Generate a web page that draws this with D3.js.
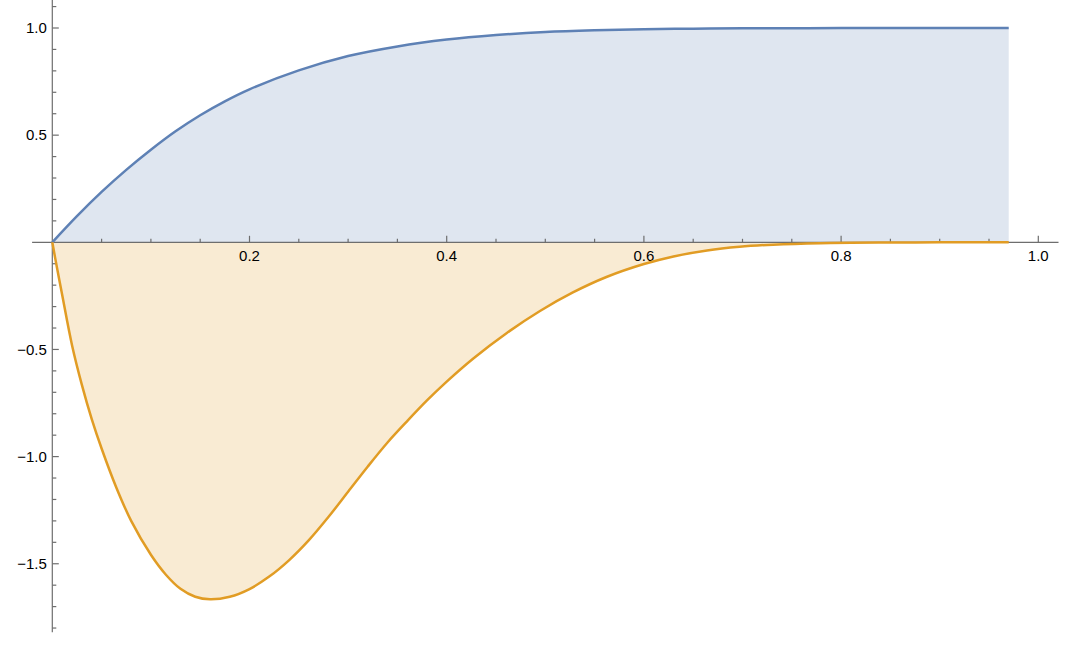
<!DOCTYPE html>
<html>
<head>
<meta charset="utf-8">
<script src="https://cdn.jsdelivr.net/npm/d3@7"></script>
<style>
  html, body { margin: 0; padding: 0; background: #ffffff; }
  svg { display: block; }
  text { font-family: "Liberation Sans", Arial, sans-serif; font-size: 15px; fill: #000; }
</style>
</head>
<body>
<svg id="chart" width="1072" height="648"></svg>
<script>
// ---- data ----
const blueX = [0, 0.025, 0.05, 0.075, 0.1, 0.125, 0.15, 0.175, 0.2, 0.25, 0.3, 0.35, 0.4, 0.45, 0.5, 0.55, 0.6, 0.65, 0.7, 0.8, 0.9, 0.97];
const blueY = [0, 0.122, 0.235, 0.338, 0.432, 0.518, 0.593, 0.658, 0.714, 0.802, 0.869, 0.914, 0.946, 0.967, 0.981, 0.989, 0.994, 0.997, 0.9985, 0.9997, 1.0, 1.0];

const orangeX = [0, 0.005, 0.01, 0.02, 0.03, 0.04, 0.05, 0.065, 0.08, 0.10, 0.115, 0.13, 0.145, 0.16, 0.18, 0.20, 0.22, 0.24, 0.26, 0.28, 0.30, 0.32, 0.34, 0.36, 0.38, 0.40, 0.427, 0.461, 0.4946, 0.528, 0.562, 0.60, 0.63, 0.664, 0.697, 0.731, 0.779, 0.85, 0.90, 0.97];
const orangeY = [0, -0.125, -0.245, -0.48, -0.665, -0.825, -0.962, -1.145, -1.30, -1.458, -1.55, -1.617, -1.654, -1.666, -1.654, -1.618, -1.560, -1.484, -1.391, -1.282, -1.164, -1.046, -0.934, -0.834, -0.738, -0.65, -0.542, -0.423, -0.3205, -0.234, -0.162, -0.1015, -0.066, -0.038, -0.021, -0.011, -0.004, -0.001, -0.0003, 0];

const xMajorTicks = [0.2, 0.4, 0.6, 0.8, 1.0];
const xTickLabels = ["0.2", "0.4", "0.6", "0.8", "1.0"];
const yMajorTicks = [-1.5, -1.0, -0.5, 0.5, 1.0];
const yTickLabels = ["\u22121.5", "\u22121.0", "\u22120.5", "0.5", "1.0"];

// ---- layout ----
const svg = d3.select("#chart");
const x = d3.scaleLinear().domain([0, 1]).range([52.3, 1038.3]);
const y = d3.scaleLinear().domain([0, 1]).range([242.3, 28]);

const xAxisMin = -0.0205, xAxisMax = 1.0205;
const yAxisMin = -1.82, yAxisMax = 1.131;

const blueColor = "#5E81B5", orangeColor = "#E19C24";
const blueFill = "#DFE6F0", orangeFill = "#F9EBD3";
const axisColor = "#6e6e6e";

const blue = blueX.map((d, i) => [d, blueY[i]]);
const orange = orangeX.map((d, i) => [d, orangeY[i]]);

const curve = d3.curveCatmullRom.alpha(0.5);
const area = d3.area().x(d => x(d[0])).y0(y(0)).y1(d => y(d[1])).curve(curve);
const line = d3.line().x(d => x(d[0])).y(d => y(d[1])).curve(curve);

// fills
svg.append("path").datum(blue).attr("d", area).attr("fill", blueFill);
svg.append("path").datum(orange).attr("d", area).attr("fill", orangeFill);

// axes
const ax = svg.append("g").attr("stroke", axisColor).attr("stroke-width", 1.2);
ax.append("line").attr("x1", x(xAxisMin)).attr("x2", x(xAxisMax)).attr("y1", y(0)).attr("y2", y(0));
ax.append("line").attr("x1", x(0)).attr("x2", x(0)).attr("y1", y(yAxisMax)).attr("y2", y(yAxisMin));

// x ticks (minor every 0.05, major every 0.2)
const xMinor = d3.range(1, 21).map(i => i * 0.05).filter(v => !xMajorTicks.some(m => Math.abs(m - v) < 1e-9));
ax.selectAll(".xminor").data(xMinor).enter().append("line")
  .attr("x1", d => x(d)).attr("x2", d => x(d)).attr("y1", y(0)).attr("y2", y(0) - 3.5);
ax.selectAll(".xmajor").data(xMajorTicks).enter().append("line")
  .attr("x1", d => x(d)).attr("x2", d => x(d)).attr("y1", y(0)).attr("y2", y(0) - 6.5);

// y ticks (minor every 0.1, major every 0.5)
const yMinor = d3.range(-18, 12).map(i => i / 10).filter(v => Math.abs(v) > 1e-9 && !yMajorTicks.some(m => Math.abs(m - v) < 1e-9));
ax.selectAll(".yminor").data(yMinor).enter().append("line")
  .attr("x1", x(0)).attr("x2", x(0) + 4).attr("y1", d => y(d)).attr("y2", d => y(d));
ax.selectAll(".ymajor").data(yMajorTicks).enter().append("line")
  .attr("x1", x(0)).attr("x2", x(0) + 6.5).attr("y1", d => y(d)).attr("y2", d => y(d));

// tick labels
svg.selectAll(".xlab").data(xMajorTicks).enter().append("text")
  .attr("x", d => x(d)).attr("y", y(0) + 18.8)
  .attr("text-anchor", "middle")
  .text((d, i) => xTickLabels[i]);
svg.selectAll(".ylab").data(yMajorTicks).enter().append("text")
  .attr("x", x(0) - 5.5).attr("y", d => y(d) + 5.2)
  .attr("text-anchor", "end")
  .text((d, i) => yTickLabels[i]);

// lines
svg.append("path").datum(blue).attr("d", line).attr("fill", "none")
  .attr("stroke", blueColor).attr("stroke-width", 2.5).attr("stroke-linejoin", "round");
svg.append("path").datum(orange).attr("d", line).attr("fill", "none")
  .attr("stroke", orangeColor).attr("stroke-width", 2.5).attr("stroke-linejoin", "round");
</script>
</body>
</html>
